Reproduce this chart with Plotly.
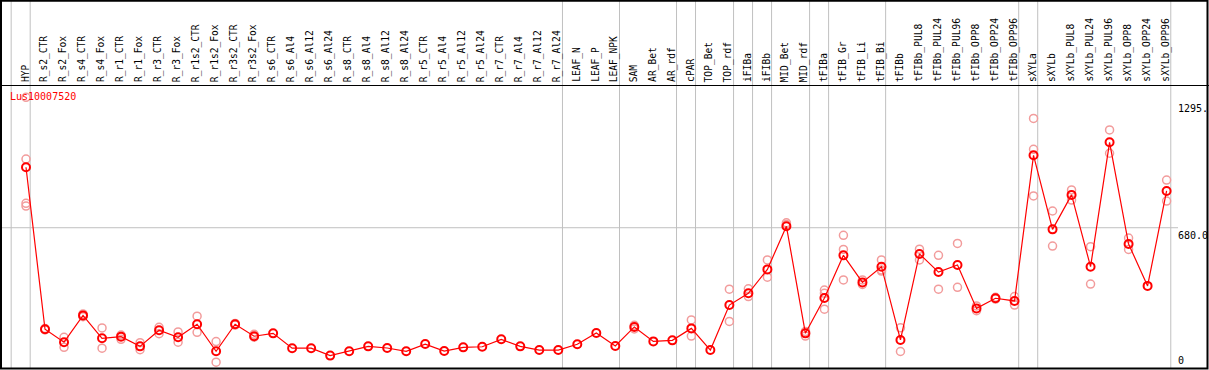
import plotly.graph_objects as go

# ---------------- data ----------------
gene = "Lus10007520"
categories = [
    "HYP", "R_s2_CTR", "R_s2_Fox", "R_s4_CTR", "R_s4_Fox", "R_r1_CTR", "R_r1_Fox",
    "R_r3_CTR", "R_r3_Fox", "R_r1s2_CTR", "R_r1s2_Fox", "R_r3s2_CTR", "R_r3s2_Fox",
    "R_s6_CTR", "R_s6_Al4", "R_s6_Al12", "R_s6_Al24", "R_s8_CTR", "R_s8_Al4",
    "R_s8_Al12", "R_s8_Al24", "R_r5_CTR", "R_r5_Al4", "R_r5_Al12", "R_r5_Al24",
    "R_r7_CTR", "R_r7_Al4", "R_r7_Al12", "R_r7_Al24", "LEAF_N", "LEAF_P", "LEAF_NPK",
    "SAM", "AR_Bet", "AR_rdf", "cPAR", "TOP_Bet", "TOP_rdf", "iFIBa", "iFIBb",
    "MID_Bet", "MID_rdf", "tFIBa", "tFIB_Gr", "tFIB_Li", "tFIB_Bi", "tFIBb",
    "tFIBb_PUL8", "tFIBb_PUL24", "tFIBb_PUL96", "tFIBb_OPP8", "tFIBb_OPP24",
    "tFIBb_OPP96", "sXYLa", "sXYLb", "sXYLb_PUL8", "sXYLb_PUL24", "sXYLb_PUL96",
    "sXYLb_OPP8", "sXYLb_OPP24", "sXYLb_OPP96",
]
mean_values = [
    973, 188, 125, 255, 144, 152, 105, 183, 149, 212, 81, 212, 154,
    168, 96, 96, 60, 81, 105, 97, 81, 116, 82, 100, 103,
    139, 105, 87, 87, 115, 170, 107,
    199, 129, 134, 192, 87, 305, 362, 478,
    687, 168, 339, 546, 415, 491, 136,
    553, 465, 499, 289, 338, 325,
    1031, 672, 839, 491, 1094, 601, 398, 858,
]
rep_a = [
    1312, 185, 149, 262, 194, 160, 123, 197, 175, 251, 128, 216, 163,
    None, None, None, None, None, None, None, None, None, None, None, None,
    None, None, None, None, None, None, None,
    207, None, None, 233, None, 382, 384, 524,
    704, 155, 378, 643, 427, 524, 195,
    576, 546, 604, 301, 343, 346,
    1210, 761, 863, 588, 1154, 630, None, 911,
]
rep_b = [
    1013, 191, 100, 249, 96, 139, 89, 166, 125, 173, 28, 208, 149,
    None, None, None, None, None, None, None, None, None, None, None, None,
    None, None, None, None, None, None, None,
    189, None, None, 155, None, 226, 346, 440,
    695, 177, 362, 575, 405, 475, 80,
    524, 382, 391, 278, 334, 305,
    1060, 591, 814, 407, 1041, 575, None, 809,
]
rep_c = [
    798, None, None, None, None, None, None, None, None, None, None, None, None,
    None, None, None, None, None, None, None, None, None, None, None, None,
    None, None, None, None, None, None, None,
    None, None, None, None, None, None, None, None,
    None, None, 285, 427, None, 470, None,
    None, None, None, None, None, None,
    834, None, None, None, None, None, None, None,
]
rep_d = [785] + [None] * 60
group_ends = [-1, 0, 28, 31, 34, 35, 37, 38, 39, 41, 42, 45, 52, 53, 60]
ytick_values = [1295, 680, 0]
ytick_labels = ["1295.", "680.0", "0"]
ref_line_value = 680

# ---------------- geometry ----------------
W, H = 1209, 370
x0_px, dx_px = 26.0, 19.01          # pixel of first category, spacing
y0_px, sy = 368.0, 0.2063           # pixel of value 0, px per unit
x_range = [-x0_px / dx_px, (W - x0_px) / dx_px]
y_range = [-(H - y0_px) / sy, y0_px / sy]

def py(p):  # pixel row -> paper y
    return 1 - p / H

def px(p):  # pixel column -> paper x
    return p / W

FONT = "DejaVu Sans Mono"
FS = 9.6
xs = list(range(len(categories)))

fig = go.Figure()

rep_color = "#f29c9c"
for reps in (rep_a, rep_b, rep_c, rep_d):
    rx = [x for x, v in zip(xs, reps) if v is not None]
    ry = [v for v in reps if v is not None]
    fig.add_trace(go.Scatter(
        x=rx, y=ry, mode="markers",
        marker=dict(symbol="circle-open", size=8, color=rep_color,
                    line=dict(width=1.5, color=rep_color)),
        showlegend=False, hoverinfo="skip"))

fig.add_trace(go.Scatter(
    x=xs, y=mean_values, mode="lines+markers",
    line=dict(color="#ff0000", width=1.2),
    marker=dict(symbol="circle-open", size=8, color="#ff0000",
                line=dict(width=2, color="#ff0000")),
    showlegend=False, hoverinfo="skip"))

shapes = []
# group separators
for g in group_ends:
    shapes.append(dict(type="line", xref="x", yref="paper",
                       x0=g + 0.22, x1=g + 0.22, y0=py(368), y1=py(1),
                       line=dict(color="#c0c0c0", width=1), layer="below"))
# reference horizontal line
shapes.append(dict(type="line", xref="paper", yref="y",
                   x0=px(1), x1=px(1178), y0=ref_line_value, y1=ref_line_value,
                   line=dict(color="#c0c0c0", width=1), layer="below"))
# header separator
shapes.append(dict(type="line", xref="paper", yref="paper",
                   x0=px(0), x1=px(W), y0=py(85.5), y1=py(85.5),
                   line=dict(color="black", width=1)))
# frame
shapes.append(dict(type="rect", xref="paper", yref="paper",
                   x0=px(1), x1=px(1207.5), y0=py(368.5), y1=py(0.8),
                   line=dict(color="black", width=2)))

annotations = []
for i, c in enumerate(categories):
    annotations.append(dict(x=i - 0.05, xref="x", y=py(84), yref="paper",
                            text=c, textangle=-90, showarrow=False,
                            xanchor="center", yanchor="bottom",
                            font=dict(family=FONT, size=FS, color="black")))
annotations.append(dict(x=px(8), xref="paper", y=py(89), yref="paper",
                        text=gene, showarrow=False, xanchor="left", yanchor="top",
                        font=dict(family=FONT, size=FS + 0.4, color="#ff0000")))
for v, t in zip(ytick_values, ytick_labels):
    annotations.append(dict(x=px(1176), xref="paper", y=v, yref="y",
                            text=t, showarrow=False, xanchor="left",
                            yanchor="bottom" if v == 0 else "top",
                            font=dict(family=FONT, size=FS + 0.4, color="black")))

fig.update_layout(
    width=W, height=H,
    margin=dict(l=0, r=0, t=0, b=0),
    paper_bgcolor="white", plot_bgcolor="white",
    xaxis=dict(range=x_range, visible=False, fixedrange=True),
    yaxis=dict(range=y_range, visible=False, fixedrange=True),
    shapes=shapes, annotations=annotations,
)

fig.write_html("out.html", config={"displayModeBar": False},
               post_script="document.body.style.margin='0';document.body.style.overflow='hidden';")
